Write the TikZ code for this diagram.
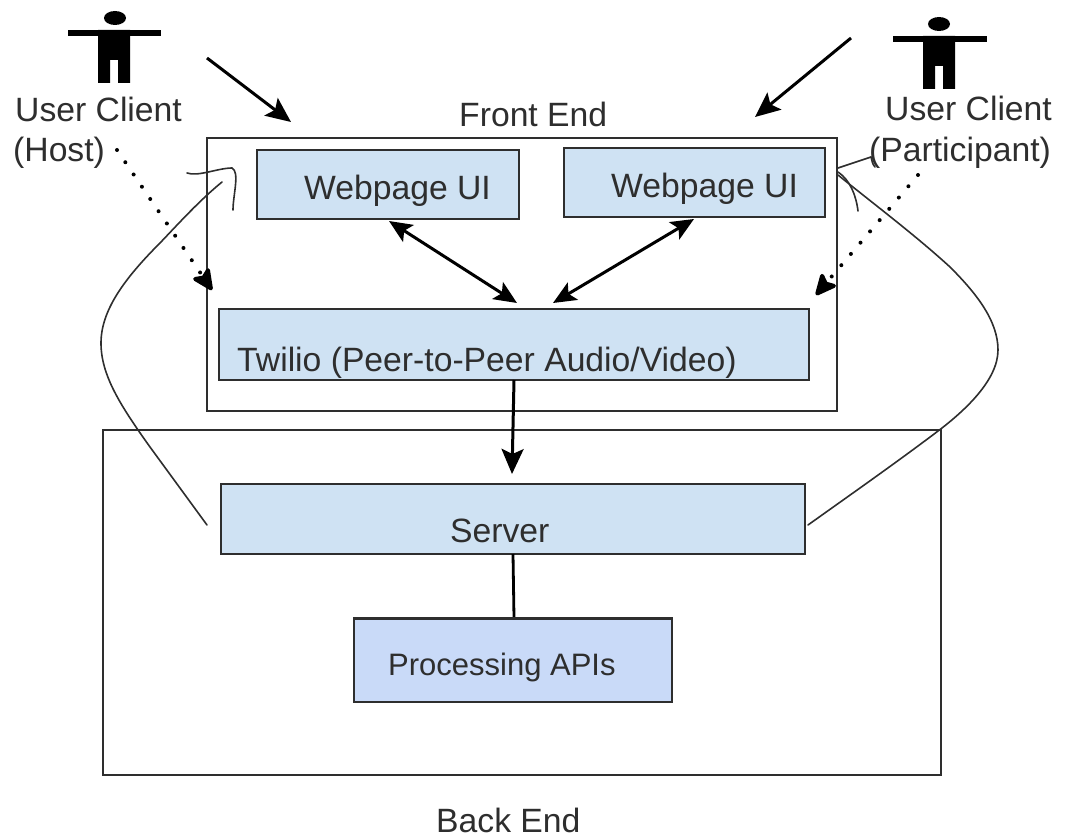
\documentclass[tikz,border=0pt]{standalone}
\usepackage{fontspec}
\setmainfont{Liberation Sans}
\usetikzlibrary{arrows.meta}
\definecolor{boxblue}{HTML}{CFE2F3}
\definecolor{apiblue}{HTML}{C9DAF8}
\definecolor{inkc}{HTML}{2E2E2E}
\tikzset{
  region/.style={draw=inkc,line width=1.5pt,fill=none,anchor=north west,inner sep=0pt,outer sep=0pt},
  bluebox/.style={draw=inkc,line width=1.5pt,fill=boxblue,anchor=north west,inner sep=0pt,outer sep=0pt},
  apibox/.style={draw=inkc,line width=1.5pt,fill=apiblue,anchor=north west,inner sep=0pt,outer sep=0pt},
  label text/.style={font=\fontsize{33.7}{38}\selectfont,text=inkc,inner sep=0pt,anchor=base west},
  solidarrow/.style={line width=3pt,black,-{Stealth[length=25pt,width=22pt,inset=5pt]}},
  bothways/.style={line width=3pt,black,{Stealth[length=23pt,width=20pt,inset=5pt]}-{Stealth[length=23pt,width=20pt,inset=5pt]}},
  dottedarrow/.style={line width=4pt,black,line cap=round,dash pattern=on 0pt off 14.8pt,-{Stealth[length=25pt,width=23pt,inset=5pt,round=false]}},
  plainlink/.style={line width=2.8pt,black},
  handline/.style={line width=1.6pt,inkc,line cap=round},
  person/.style={fill=black,draw=none}
}
\begin{document}
\begin{tikzpicture}[x=1pt,y=-1pt]
\useasboundingbox (0,0) rectangle (1065,837);
% regions
\node[region,minimum width=630pt,minimum height=273pt] (front) at (207,138) {};
\node[region,minimum width=838pt,minimum height=345pt] (back) at (103,430) {};
% boxes
\node[bluebox,minimum width=262pt,minimum height=69pt] (uil) at (257,150) {};
\node[bluebox,minimum width=261pt,minimum height=69pt] (uir) at (564,148) {};
\node[bluebox,minimum width=590pt,minimum height=71pt] (twilio) at (219,309) {};
\node[bluebox,minimum width=584pt,minimum height=70pt] (server) at (221,484) {};
\node[apibox,minimum width=318pt,minimum height=84pt] (api) at (354,618) {};
% texts
\node[label text] (tuil) at (304,200) {Webpage UI};
\node[label text] (tuir) at (611,198) {Webpage UI};
\node[label text] (ttw) at (237,371) {Twilio (Peer-to-Peer Audio/Video)};
\node[label text] (tsv) at (450,542) {Server};
\node[label text,font=\fontsize{31}{38}\selectfont] (tapi) at (388,675) {Processing APIs};
\node[label text] (tfront) at (459,127) {Front End};
\node[label text] (tback) at (436,832) {Back End};
\node[label text] (thost1) at (15,122) {User Client};
\node[label text] (thost2) at (13,162) {(Host)};
\node[label text] (tpart1) at (885,121) {User Client};
\node[label text] (tpart2) at (869,162) {(Participant)};
% persons
\fill[person] (115,18) ellipse (11 and 7);
\fill[person] (68,30) rectangle (161,36);
\fill[person] (98,30) -- (130,30) -- (130,83) -- (118,83) -- (118,60) -- (110,60) -- (110,83) -- (98,83) -- cycle;
\fill[person] (939,24) ellipse (11 and 7);
\fill[person] (893,36) rectangle (987,42);
\fill[person] (923,36) -- (955,36) -- (955,89) -- (943,89) -- (943,66) -- (935,66) -- (935,89) -- (923,89) -- cycle;
% free ends
\coordinate (a1) at (207,58);
\coordinate (a2) at (291,122);
\coordinate (b1) at (851,38);
\coordinate (b2) at (755,117);
\coordinate (d1) at (117,150);
\coordinate (d2) at (212,290);
\coordinate (e1) at (918,175);
\coordinate (e2) at (816,295);
\coordinate (f1) at (389,221);
\coordinate (f2) at (517,303);
\coordinate (g1) at (694,219);
\coordinate (g2) at (553,303);
\coordinate (h1) at (514,380);
\coordinate (h2) at (512,474);
\draw[solidarrow] (a1) -- (a2);
\draw[solidarrow] (b1) -- (b2);
\draw[dottedarrow] (d1) -- (d2);
\draw[dottedarrow] (e1) -- (e2);
\draw[bothways] (f1) -- (f2);
\draw[bothways] (g1) -- (g2);
\draw[solidarrow] (h1) -- (h2);
\draw[plainlink] (513,554) -- (514,618);
\draw[line width=3pt,inkc] (api.north west) -- (api.north east);
% hand-drawn curves
\coordinate (c1) at (207,525);
\coordinate (c2) at (222,182);
\draw[handline] (c1) -- (150,447)
  .. controls (120,405) and (101,375) .. (101,343)
  .. controls (101,310) and (125,278) .. (160,243)
  .. controls (180,222) and (200,200) .. (c2);
\draw[handline] (187,173) .. controls (198,177) and (218,168) .. (232,168)
  .. controls (240,172) and (233,195) .. (233,210);
\coordinate (r1) at (808,525);
\coordinate (r2) at (838,175);
\draw[handline] (r1) .. controls (850,495) and (900,460) .. (942,428)
  .. controls (965,410) and (998,380) .. (998,350)
  .. controls (998,320) and (975,292) .. (950,267)
  .. controls (915,235) and (875,205) .. (r2);
\draw[handline] (838,168) -- (871,157);
\draw[handline] (871,157) .. controls (872,160) and (872,164) .. (875,167);
\draw[handline] (838,172) .. controls (850,180) and (856,195) .. (858,211);
\end{tikzpicture}
\end{document}
